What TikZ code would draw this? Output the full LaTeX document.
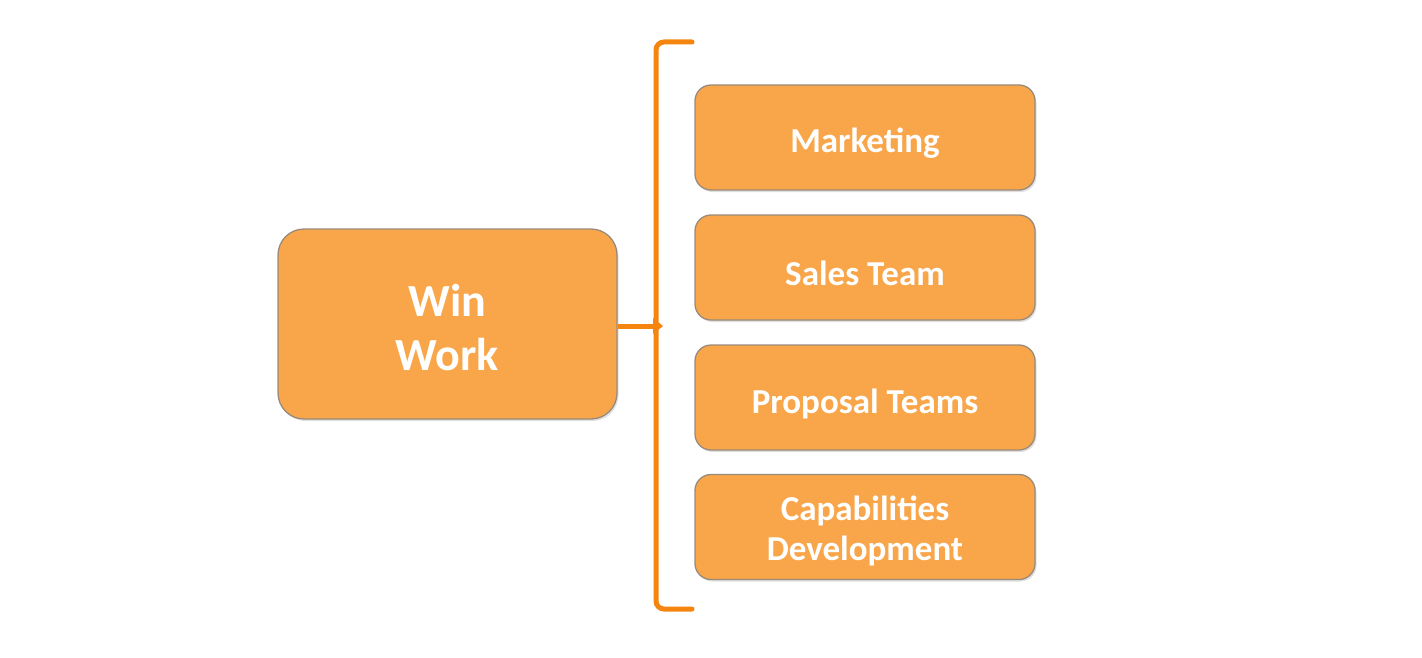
\documentclass[tikz,border=0pt]{standalone}
\usepackage{fontspec}
\setmainfont{Carlito}
\usetikzlibrary{shadows}
\definecolor{boxfill}{HTML}{F9A64B}
\definecolor{boxedge}{HTML}{9A8A7A}
\definecolor{brace}{HTML}{F5850F}
\tikzset{
  x=1pt, y=-1pt,
  orangebox/.style={draw=boxedge, line width=1.3pt, fill=boxfill, rounded corners=16pt,
    minimum width=340pt, minimum height=105pt, inner sep=0pt,
    drop shadow={shadow xshift=1.5pt, shadow yshift=-2pt, opacity=0.25, fill=gray}},
  mainbox/.style={orangebox, rounded corners=26pt, minimum width=339pt, minimum height=190pt},
  boxtext/.style={text=white, font=\bfseries\fontsize{35}{40}\selectfont, align=center, yshift=-6pt},
  maintext/.style={text=white, font=\bfseries\fontsize{46}{54}\selectfont, align=center, yshift=-4pt},
  bracketline/.style={draw=brace, line width=5pt, line cap=round, rounded corners=8pt}
}
\begin{document}
\begin{tikzpicture}
\useasboundingbox (0,0) rectangle (1422,658);
\node[mainbox, label={[maintext]center:Win\\Work}] (win) at (447.5,324) {};
\node[orangebox, label={[boxtext]center:Marketing}] (mkt) at (865,137.5) {};
\node[orangebox, label={[boxtext]center:Sales Team}] (sales) at (865,267.5) {};
\node[orangebox, label={[boxtext]center:Proposal Teams}] (prop) at (865,397.5) {};
\node[orangebox, label={[boxtext, yshift=2pt]center:Capabilities\\Development}] (cap) at (865,527) {};
\coordinate (btop) at (692,42);
\coordinate (bbot) at (692,609);
\coordinate (bmid) at (658,326);
\draw[bracketline] (btop) -- (656,42) -- (656,609) -- (bbot);
\draw[draw=brace, line width=5pt] (win.east |- bmid) -- (bmid);
\fill[brace] (653,318) -- (663,326) -- (653,334) -- cycle;
\end{tikzpicture}
\end{document}
